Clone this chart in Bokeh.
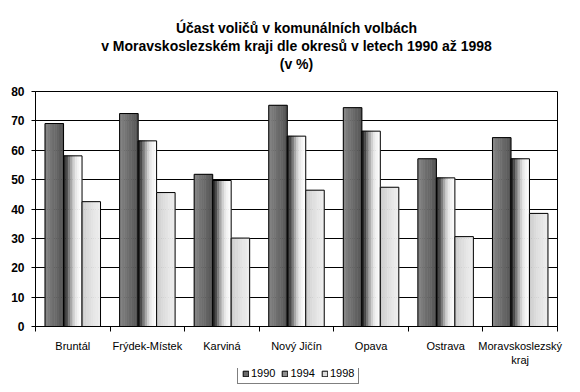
from bokeh.plotting import figure
from bokeh.layouts import column
from bokeh.models import Range1d, FixedTicker, Title, Legend, LegendItem, ColumnDataSource
from bokeh.embed import file_html
from bokeh.resources import INLINE

# ---- data ----
categories = ["Bruntál", "Frýdek-Místek", "Karviná", "Nový Jičín", "Opava", "Ostrava", "Moravskoslezský\nkraj"]
years = ["1990", "1994", "1998"]
v1990 = [69.1, 72.5, 51.8, 75.3, 74.5, 57.1, 64.3]
v1994 = [58.1, 63.2, 49.7, 64.8, 66.5, 50.6, 57.1]
v1998 = [42.5, 45.6, 30.1, 46.4, 47.4, 30.6, 38.5]
y_ticks = [0, 10, 20, 30, 40, 50, 60, 70, 80]
title_lines = ["Účast voličů v komunálních volbách",
               "v Moravskoslezském kraji dle okresů v letech 1990 až 1998",
               "(v %)"]

# ---- styles ----
FONT = "Liberation Sans"
grad = [
    ["#858585", "#7c7c7c", "#757575", "#6f6f6f", "#6a6a6a", "#646464", "#5d5d5d", "#545454"],
    ["#262626", "#4a4a4a", "#7a7a7a", "#a8a8a8", "#cfcfcf", "#e8e8e8", "#f4f4f4", "#fbfbfb"],
    ["#cdcdcd", "#d4d4d4", "#dadada", "#dfdfdf", "#e3e3e3", "#e7e7e7", "#eaeaea", "#ececec"],
]
legend_colors = ["#6a6a6a", "#8f8f8f", "#dedede"]

bar_w = 0.248
offsets = [-bar_w, 0.0, bar_w]
n_slices = 8
series = [v1990, v1994, v1998]

p = figure(width=580, height=368, x_range=Range1d(0, len(categories)), y_range=Range1d(0, 80),
           output_backend="svg", toolbar_location=None, title=None,
           min_border_left=35, min_border_right=23, min_border_top=91, min_border_bottom=38)
p.background_fill_color = "white"
p.border_fill_color = "white"
p.outline_line_color = "black"
p.outline_line_width = 1

sources = []
for s, vals in enumerate(series):
    centers = [i + 0.5 + offsets[s] for i in range(len(categories))]
    src = ColumnDataSource(dict(x=centers, top=vals))
    sources.append(src)
    sw = bar_w / n_slices
    for k in range(n_slices):
        xs = [c - bar_w / 2 + (k + 0.5) * sw for c in centers]
        p.vbar(x=xs, top=vals, width=sw, fill_color=grad[s][k],
               line_color=grad[s][k], line_width=0.6)
    p.vbar(x="x", top="top", width=bar_w, source=src,
           fill_color=None, line_color="black", line_width=1)

# axes
xa = p.xaxis[0]
xa.ticker = FixedTicker(ticks=[i + 0.5 for i in range(len(categories))],
                        minor_ticks=list(range(len(categories) + 1)))
xa.major_label_overrides = {i + 0.5: c for i, c in enumerate(categories)}
xa.major_tick_out = 0
xa.major_tick_in = 0
xa.minor_tick_out = 5
xa.minor_tick_in = 0
xa.minor_tick_line_color = "black"
xa.axis_line_color = "black"
xa.major_label_text_font = FONT
xa.major_label_text_font_size = "11px"
xa.major_label_text_color = "black"
xa.major_label_standoff = 8

ya = p.yaxis[0]
ya.ticker = FixedTicker(ticks=y_ticks)
ya.major_tick_out = 4
ya.major_tick_in = 0
ya.minor_tick_out = 0
ya.minor_tick_in = 0
ya.axis_line_color = "black"
ya.major_tick_line_color = "black"
ya.major_label_text_font = FONT
ya.major_label_text_font_size = "12px"
ya.major_label_text_font_style = "bold"
ya.major_label_text_color = "black"
ya.major_label_standoff = 7

p.xgrid.visible = False
p.ygrid.ticker = FixedTicker(ticks=y_ticks)
p.ygrid.grid_line_color = "black"
p.ygrid.grid_line_width = 1

# titles: spacer first (closest to the frame), then lines from bottom to top
p.add_layout(Title(text=" ", text_font_size="10px", standoff=7), "above")
for line in reversed(title_lines):
    p.add_layout(Title(text=line, align="center", text_font=FONT, text_font_size="14px",
                       text_font_style="bold", text_color="black", standoff=0), "above")

# legend strip (series drawn out of view, only used as legend glyphs)
lg = figure(width=580, height=24, x_range=Range1d(0, len(categories)), y_range=Range1d(1000, 1001),
            output_backend="svg", toolbar_location=None, title=None,
            min_border_left=35, min_border_right=23, min_border_top=0, min_border_bottom=0)
lg.axis.visible = False
lg.grid.visible = False
lg.outline_line_color = None
lg.background_fill_color = "white"
lg.border_fill_color = "white"
items = []
for s in range(3):
    r = lg.vbar(x="x", top="top", width=bar_w, source=sources[s],
                fill_color=legend_colors[s], line_color="black", line_width=1)
    items.append(LegendItem(label=years[s], renderers=[r]))
legend = Legend(items=items, orientation="horizontal", location=(202, 8),
                border_line_color="black", border_line_width=1,
                background_fill_color="white", background_fill_alpha=1,
                glyph_width=7, glyph_height=7, label_standoff=2, spacing=6,
                padding=4, margin=0, label_height=11,
                label_text_font=FONT, label_text_font_size="11px", label_text_color="black")
lg.add_layout(legend, "center")

layout = column(p, lg, spacing=0)
open("out.html", "w").write(file_html(layout, INLINE))
